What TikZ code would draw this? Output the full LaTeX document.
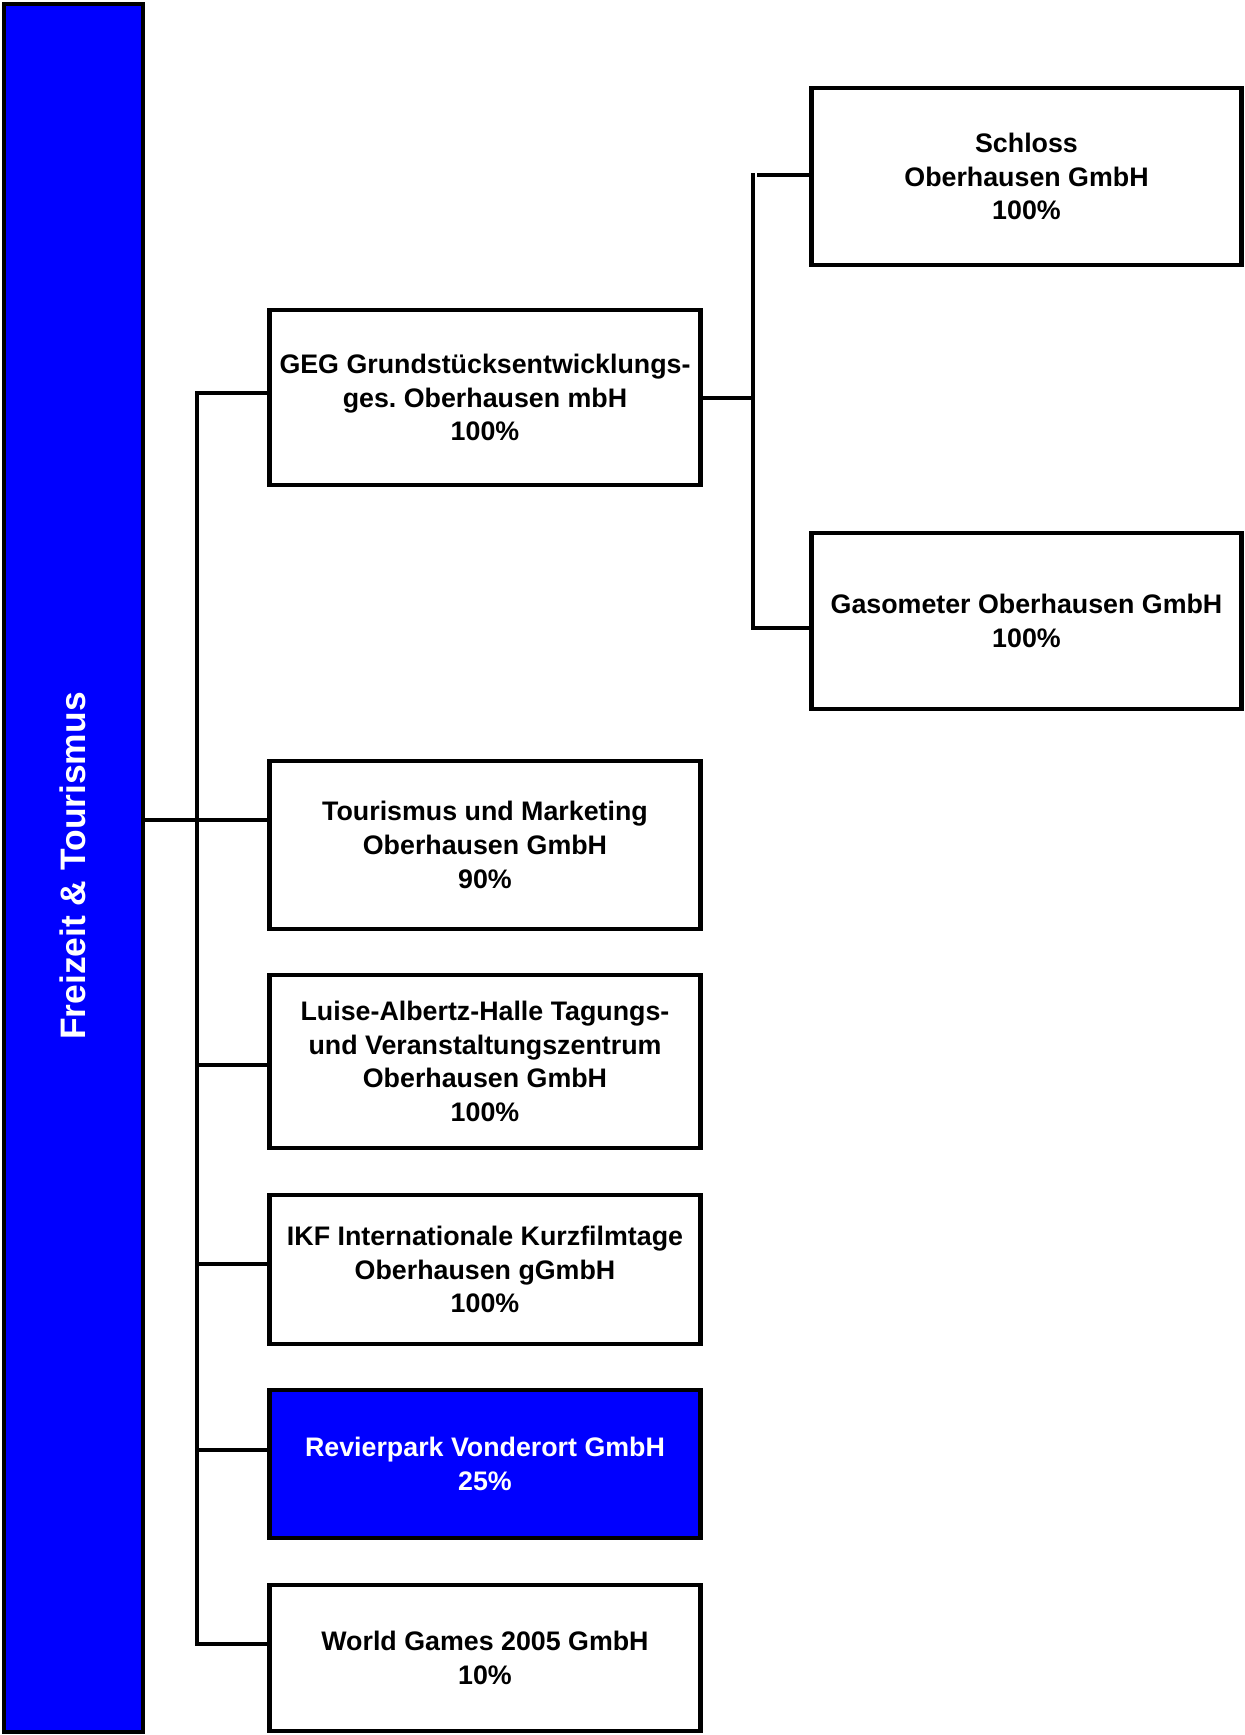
\documentclass[tikz,border=0pt]{standalone}
\usepackage{fontspec}
\setmainfont{Liberation Sans}
\frenchspacing
\begin{document}
\begin{tikzpicture}[x=0.5pt,y=-0.5pt]
\tikzset{
  box/.style={draw=black, line width=2.3pt, fill=white, inner sep=0pt, align=center,
    font=\bfseries\fontsize{13.4}{16.9}\selectfont},
  conn/.style={line width=1.7pt, line cap=butt},
}
\useasboundingbox (0,0) rectangle (1244,1735);
% left bar
\node[box, fill=blue, minimum width=69.5pt, minimum height=864pt] (bar) at (73.5,868) {};
\node[rotate=90, text=white, inner sep=0pt, font=\bfseries\fontsize{17.7}{20}\selectfont] (bartext) at (73,866) {Freizeit \& Tourismus};
% first column
\node[box, minimum width=215.5pt, minimum height=87.5pt] (geg) at (485,397.5) {GEG Grundstücksentwicklungs-\\ges. Oberhausen mbH\\100\%};
\node[box, minimum width=215.5pt, minimum height=84pt] (tour) at (485,845) {Tourismus und Marketing\\Oberhausen GmbH\\90\%};
\node[box, minimum width=215.5pt, minimum height=86.5pt] (luise) at (485,1061.5) {Luise-Albertz-Halle Tagungs-\\und Veranstaltungszentrum\\Oberhausen GmbH\\100\%};
\node[box, minimum width=215.5pt, minimum height=74.5pt] (ikf) at (485,1269.5) {IKF Internationale Kurzfilmtage\\Oberhausen gGmbH\\100\%};
\node[box, fill=blue, text=white, minimum width=215.5pt, minimum height=74pt] (revier) at (485,1464) {Revierpark Vonderort GmbH\\25\%};
\node[box, minimum width=215.5pt, minimum height=73pt] (world) at (485,1658) {World Games 2005 GmbH\\10\%};
% second column
\node[box, minimum width=215pt, minimum height=88.5pt] (schloss) at (1026.5,176.5) {Schloss\\Oberhausen GmbH\\100\%};
\node[box, minimum width=215pt, minimum height=88pt] (gaso) at (1026.5,621) {Gasometer Oberhausen GmbH\\100\%};
% main trunk
\coordinate (ttop) at (197,393);
\coordinate (tbot) at (197,1644);
\coordinate (c2) at (197,820);
\coordinate (c3) at (197,1065);
\coordinate (c4) at (197,1264);
\coordinate (c5) at (197,1450);
\draw[conn] (ttop -| geg.west) -- (ttop) -- (tbot) -- (tbot -| world.west);
\draw[conn] (bar.east |- c2) -- (c2 -| tour.west);
\draw[conn] (c3) -- (c3 -| luise.west);
\draw[conn] (c4) -- (c4 -| ikf.west);
\draw[conn] (c5) -- (c5 -| revier.west);
% second trunk
\coordinate (rtop) at (753,173);
\coordinate (rmid) at (753,398);
\coordinate (rbot) at (753,628);
\coordinate (sch) at (757,175);
\draw[conn] (geg.east |- rmid) -- (rmid);
\draw[conn] (rtop) -- (rbot) -- (rbot -| gaso.west);
\draw[conn] (sch) -- (sch -| schloss.west);
\end{tikzpicture}
\end{document}
